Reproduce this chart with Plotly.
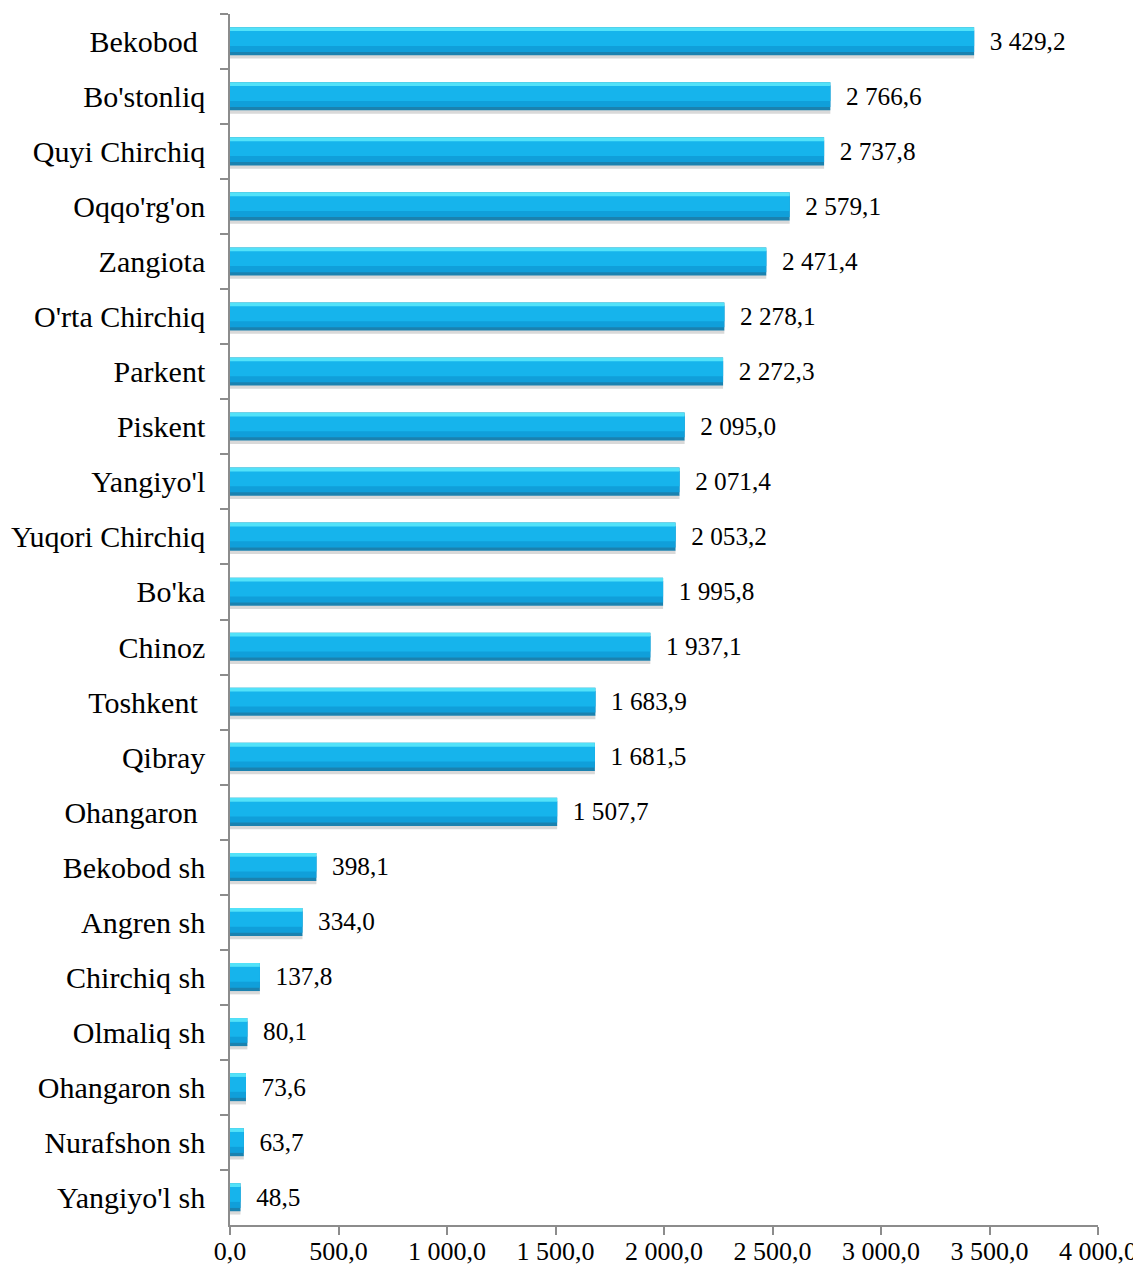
import plotly.graph_objects as go

categories = ["Bekobod\u00a0", "Bo'stonliq", "Quyi Chirchiq", "Oqqo'rg'on", "Zangiota",
              "O'rta Chirchiq", "Parkent", "Piskent", "Yangiyo'l", "Yuqori Chirchiq",
              "Bo'ka", "Chinoz", "Toshkent\u00a0", "Qibray", "Ohangaron\u00a0",
              "Bekobod sh", "Angren sh", "Chirchiq sh", "Olmaliq sh", "Ohangaron sh",
              "Nurafshon sh", "Yangiyo'l sh"]
values = [3429.2, 2766.6, 2737.8, 2579.1, 2471.4, 2278.1, 2272.3, 2095.0, 2071.4, 2053.2,
          1995.8, 1937.1, 1683.9, 1681.5, 1507.7, 398.1, 334.0, 137.8, 80.1, 73.6, 63.7, 48.5]
x_ticks = [0, 500, 1000, 1500, 2000, 2500, 3000, 3500, 4000]

font_family = "Liberation Serif, Times New Roman, serif"

fig = go.Figure()
# soft shadow below bars
fig.add_trace(go.Bar(
    y=categories, x=values, orientation="h",
    width=0.07, offset=0.24,
    marker=dict(color="#d9d9d9", line=dict(width=0)),
    hoverinfo="skip", showlegend=False))
# base (dark lower edge)
fig.add_trace(go.Bar(
    y=categories, x=values, orientation="h",
    width=0.51, offset=-0.26,
    marker=dict(color="#1A82B0", line=dict(width=0)),
    texttemplate="  %{x:,.1f}", textposition="outside", cliponaxis=False,
    textfont=dict(family=font_family, size=27, color="black"),
    hoverinfo="skip", showlegend=False))
# lower body
fig.add_trace(go.Bar(
    y=categories, x=values, orientation="h",
    width=0.39, offset=-0.2,
    marker=dict(color="#109FDA", line=dict(width=0)),
    hoverinfo="skip", showlegend=False))
# main body
fig.add_trace(go.Bar(
    y=categories, x=values, orientation="h",
    width=0.28, offset=-0.2,
    marker=dict(color="#16B4EC", line=dict(width=0)),
    hoverinfo="skip", showlegend=False))
# top highlight
fig.add_trace(go.Bar(
    y=categories, x=values, orientation="h",
    width=0.07, offset=-0.26,
    marker=dict(color="#52E2F9", line=dict(width=0)),
    hoverinfo="skip", showlegend=False))

fig.update_layout(
    width=1133, height=1259,
    margin=dict(l=222, r=43, t=6, b=42),
    barmode="overlay",
    separators=", ",
    plot_bgcolor="white", paper_bgcolor="white",
    font=dict(family=font_family, size=26, color="black"),
)
fig.update_xaxes(
    range=[0, 4000], tickvals=x_ticks, tickformat=",.1f",
    showgrid=False, zeroline=False, automargin=False,
    showline=True, linecolor="#8c8c8c", linewidth=1.5,
    ticks="outside", ticklen=8, tickcolor="#8c8c8c", tickwidth=1.5,
    ticklabelstandoff=-6,
    tickfont=dict(family=font_family, size=26, color="black"),
)
fig.update_yaxes(
    type="category", range=[len(categories) - 0.5, -0.5],
    showgrid=False, zeroline=False, automargin=False,
    showline=True, linecolor="#8c8c8c", linewidth=1.5,
    ticks="outside", ticklen=8, tickcolor="#8c8c8c", tickwidth=1.5,
    tickson="boundaries", ticklabelstandoff=17,
    tickfont=dict(family=font_family, size=30, color="black"),
)

fig.write_html("out.html")
